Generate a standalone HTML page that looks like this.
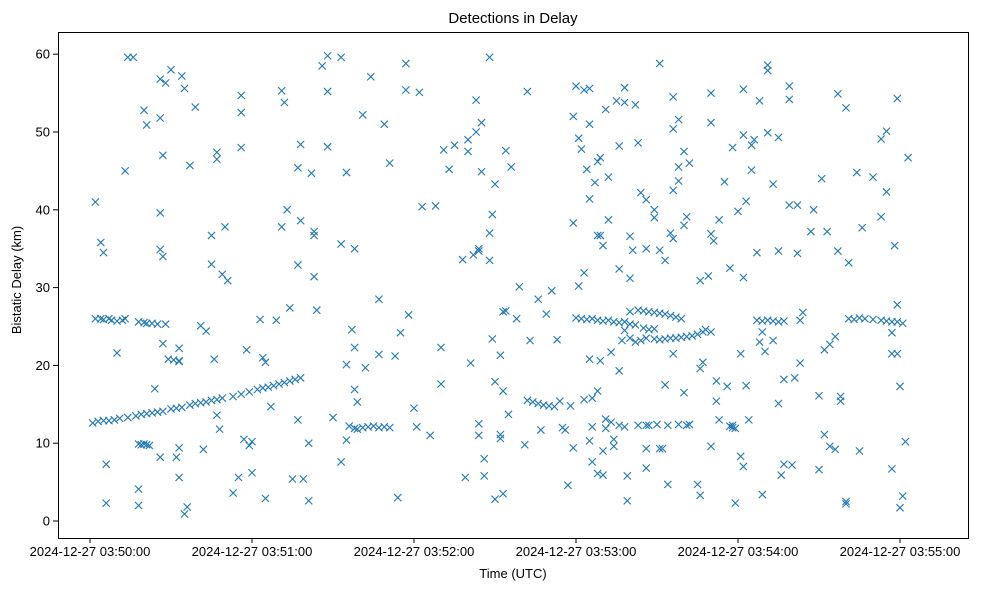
<!DOCTYPE html>
<html><head><meta charset="utf-8"><style>
html,body{margin:0;padding:0;background:#fff;}
svg{display:block;font-family:"Liberation Sans","DejaVu Sans",sans-serif;}
</style></head><body>
<svg id="chart" width="983" height="590" viewBox="0 0 983 590" xmlns="http://www.w3.org/2000/svg">
<rect width="983" height="590" fill="#fff"/>
<text x="513" y="23" font-size="15" text-anchor="middle" fill="#000">Detections in Delay</text>
<text x="513" y="578" font-size="13" text-anchor="middle" fill="#000">Time (UTC)</text>
<text transform="translate(21,280) rotate(-90)" font-size="13" text-anchor="middle" fill="#000">Bistatic Delay (km)</text>
<g id="marks"></g>
<g id="axes"></g>
<rect x="58.5" y="32.5" width="910" height="506" fill="none" stroke="#000" stroke-width="1"/>
</svg>
<script>
const xTickSeconds = [0, 60, 120, 180, 240, 300];
const xTickLabels = ["2024-12-27 03:50:00","2024-12-27 03:51:00","2024-12-27 03:52:00","2024-12-27 03:53:00","2024-12-27 03:54:00","2024-12-27 03:55:00"];
const yTicks = [0, 10, 20, 30, 40, 50, 60];
// seconds after 03:50:00, delay km
const trackPoints = [
[2,26],[4,26],[5,25.9],[7,26],[8,25.8],[10,25.7],[12,25.8],[13,26],
[1,12.6],[3,12.8],[5,12.9],[7,12.9],[9,13],[11,13.2],[14,13.3],[17,13.5],[19,13.7],[21,13.8],[23,13.9],[25,14],[27,14.1],[30,14.4],[32,14.5],[34,14.6],[37,14.9],[39,15.1],[41,15.2],[43,15.3],[45,15.5],[47,15.6],[49,15.8],[53,16],[56,16.3],[59,16.6],[62,16.9],[64,17.1],[66,17.2],[68,17.4],[70,17.6],[72,17.8],[74,18],[76,18.2],[78,18.4],
[18,25.6],[20,25.5],[21,25.4],[23,25.4],[25,25.3],[28,25.3],
[29,20.8],[31,20.7],[33,20.5],
[18,9.9],[19,9.8],[20,9.9],[21,9.8],[22,9.7],
[96,12.2],[98,11.9],[99,11.8],[101,12],[103,12.1],[105,12.2],[107,12],[109,12.1],[111,12],
[180,26.1],[182,26],[184,25.9],[186,26],[188,25.8],[190,25.7],[192,25.8],[194,25.6],[196,25.5],[198,25.6],[200,25.3],[202,25.2],
[200,26.9],[203,27.1],[205,27],[207,26.9],[209,26.8],[211,26.7],[213,26.6],[215,26.4],[217,26.2],[219,26],
[198,24.5],[200,23.5],[202,23],[204,23.2],[206,23.5],[209,23.4],[211,23.3],[213,23.4],[215,23.5],[217,23.5],[219,23.6],[221,23.7],[223,23.8],[225,24],[227,24.3],[228,24.6],[230,24.3],
[205,24.8],[207,24.6],[209,24.7],
[247,25.8],[249,25.7],[251,25.8],[253,25.7],[255,25.6],[257,25.7],
[281,26],[283,25.9],[285,26.1],[287,26],[290,25.9],[293,25.8],[295,25.7],[297,25.6],[299,25.6],[301,25.4],
[162,15.5],[164,15.3],[166,15.1],[168,14.9],[170,14.8],[172,14.7],
[196,12.3],[203,12.3],[206,12.3],[210,12.4],[214,12.3],[218,12.4],[221,12.3],
[237,12.2],[238,12],[239,11.9]
];
const scatterPoints = [
[2,41],[4,35.8],[5,34.5],[6,7.3],[6,2.3],[10,21.6],[13,45],[14,59.6],[16,59.6],[18,4.1],[18,2],[20,52.8],[21,50.9],[24,17],[26,56.8],[26,51.8],[26,39.6],[26,34.9],[27,34],[27,47],[27,22.8],[28,56.3],[26,8.2],[30,58],[32,8.2],[33,22.2],[33,20.6],[33,9.4],[33,5.6],[34,57.2],[35,55.6],[35,0.9],[36,1.8],[37,45.7],[39,53.2],[41,25.1],[42,9.2],[43,24.4],[45,36.7],[45,33],[46,20.8],[47,47.4],[47,46.5],[47,13.6],[48,11.8],[49,31.7],[50,37.8],[51,30.9],[53,3.6],[55,5.6],[56,54.7],[56,52.5],[56,48],[57,10.5],[58,22],[59,9.7],[60,6.2],[60,10.2],[63,25.9],[64,21],[65,2.9],[65,20.4],[67,14.7],[69,25.8],[71,55.3],[72,53.8],[71,37.8],[73,40],[74,27.4],[75,5.4],[77,32.9],[77,13],[77,45.4],[78,48.4],[78,38.6],[79,5.4],[81,2.6],[81,10],[82,44.7],[83,37.2],[83,36.7],[83,31.4],[84,27.1],[86,58.5],[88,59.8],[88,55.2],[88,48.1],[90,13.3],[93,59.6],[93,35.6],[93,7.6],[95,44.8],[95,20.1],[95,10.4],[97,24.6],[98,35],[98,22.3],[98,16.9],[99,15.3],[101,52.2],[102,19.7],[104,57.1],[107,28.5],[107,21.4],[109,51],[111,46],[113,21.2],[114,3],[115,24.2],[117,58.8],[117,55.4],[118,26.5],[120,14.5],[121,12.1],[122,55.1],[123,40.4],[126,11],[128,40.5],[130,22.3],[130,17.6],[131,47.7],[133,45.2],[135,48.3],[138,33.6],[139,5.6],[140,47.5],[140,49],[141,20.3],[142,34.2],[143,50],[143,54.1],[144,34.7],[144,35],[144,12.5],[144,11],[145,51.2],[145,44.9],[146,8],[146,5.8],[148,59.6],[148,37],[148,33.5],[149,39.4],[149,23.4],[150,2.8],[150,43.3],[150,17.9],[152,10.6],[152,11.1],[152,21.3],[153,3.5],[153,16.7],[153,26.9],[154,27],[154,47.6],[155,13.7],[156,45.5],[158,26],[159,30.1],[161,9.8],[162,55.2],[163,23.2],[166,28.5],[167,11.7],[169,26.6],[171,29.6],[173,23.3],[174,15.4],[175,12],[176,11.7],[177,4.6],[178,14.8],[179,52],[179,38.3],[179,9.4],[180,55.9],[181,49.2],[181,30.2],[182,47.8],[183,31.9],[183,55.4],[183,15.6],[184,45.2],[185,51],[185,55.6],[185,10.3],[185,20.8],[185,41.4],[186,7.6],[186,15.8],[186,12.1],[187,43.5],[188,46.2],[188,6.1],[188,16.7],[188,36.7],[189,20.6],[189,36.7],[189,46.7],[190,35.4],[190,5.9],[190,9],[191,13.1],[191,11.9],[191,52.9],[192,38.7],[192,44.2],[193,12.7],[193,21.7],[194,9.6],[194,10.5],[195,54],[196,32.4],[196,48.2],[196,19.3],[197,23.2],[198,53.8],[198,55.7],[198,12.1],[199,5.8],[199,2.6],[200,36.6],[200,31.2],[201,34.8],[202,53.5],[203,48.6],[204,42.2],[206,35],[206,41.3],[206,9.3],[206,6.8],[207,12.3],[209,39],[209,40],[211,58.8],[211,34.8],[211,9.3],[212,9.3],[213,33.5],[213,17.5],[214,4.7],[215,37],[216,50.4],[216,54.5],[216,36.3],[216,42.5],[216,21.5],[218,43.7],[218,45.5],[218,51.6],[220,16.5],[220,47.5],[220,38],[221,39.1],[222,46],[222,12.4],[225,4.7],[226,3.3],[226,30.9],[226,19.6],[227,20.4],[229,31.5],[230,55],[230,51.2],[230,36.9],[230,9.6],[231,36],[232,15.4],[232,18],[233,38.7],[233,13],[235,43.6],[236,17.3],[237,32.5],[238,48],[238,12.3],[239,2.3],[240,39.8],[241,8.3],[241,21.5],[242,55.5],[242,31.3],[242,49.6],[242,7],[243,41.1],[243,17.4],[244,13],[245,45.1],[245,48.3],[246,49],[247,34.5],[248,23],[248,54],[249,3.4],[249,24.3],[250,21.8],[251,58.6],[251,57.9],[251,49.9],[253,43.3],[253,23.2],[255,49.3],[255,15.1],[255,34.7],[256,5.9],[257,18.2],[257,7.3],[259,55.9],[259,54.2],[259,40.6],[260,7.2],[261,18.4],[262,40.6],[262,34.4],[263,20.3],[263,25.8],[264,26.8],[267,37.2],[268,40],[270,6.6],[270,16.1],[271,44],[272,22],[272,11.1],[273,37.2],[274,22.7],[274,9.6],[276,9.2],[276,23.7],[277,54.9],[277,34.7],[278,15.4],[278,16],[280,2.5],[280,2.2],[280,53.1],[281,33.2],[284,44.8],[285,9],[286,37.7],[290,44.2],[293,49.1],[293,39.1],[295,50.1],[295,42.3],[297,6.7],[297,24.2],[297,21.5],[298,35.4],[299,54.3],[299,27.8],[299,21.5],[300,1.7],[300,17.3],[301,3.2],[302,10.2],[303,46.7]
];
const NS="http://www.w3.org/2000/svg";
const X0=90, PXS=2.7, Y0=521, PXK=7.78;
function xScale(t){return X0+t*PXS;}
function yScale(d){return Y0-d*PXK;}
const marks=document.getElementById('marks');
const axes=document.getElementById('axes');
[...trackPoints,...scatterPoints].forEach(function(p){
  const cx=xScale(p[0]), cy=yScale(p[1]), s=3.6;
  const path=document.createElementNS(NS,'path');
  path.setAttribute('d','M'+(cx-s)+' '+(cy-s)+'L'+(cx+s)+' '+(cy+s)+'M'+(cx-s)+' '+(cy+s)+'L'+(cx+s)+' '+(cy-s));
  path.setAttribute('stroke','#1f77b4');
  path.setAttribute('stroke-width','1.1');
  path.setAttribute('fill','none');
  
  
  marks.appendChild(path);
});
xTickSeconds.forEach(function(t,i){
  const x=xScale(t);
  const l=document.createElementNS(NS,'line');
  l.setAttribute('x1',x);l.setAttribute('x2',x);l.setAttribute('y1',538);l.setAttribute('y2',543);
  l.setAttribute('stroke','#000');
  
  
  axes.appendChild(l);
  const tx=document.createElementNS(NS,'text');
  tx.setAttribute('x',x);tx.setAttribute('y',556);tx.setAttribute('font-size','13');tx.setAttribute('text-anchor','middle');
  tx.textContent=xTickLabels[i];
  
  
  axes.appendChild(tx);
});
yTicks.forEach(function(v){
  const y=yScale(v);
  const l=document.createElementNS(NS,'line');
  l.setAttribute('x1',53);l.setAttribute('x2',58);l.setAttribute('y1',y);l.setAttribute('y2',y);
  l.setAttribute('stroke','#000');
  
  
  axes.appendChild(l);
  const tx=document.createElementNS(NS,'text');
  tx.setAttribute('x',50);tx.setAttribute('y',y+4.5);tx.setAttribute('font-size','13');tx.setAttribute('text-anchor','end');
  tx.textContent=String(v);
  
  
  axes.appendChild(tx);
});
</script>
</body></html>
